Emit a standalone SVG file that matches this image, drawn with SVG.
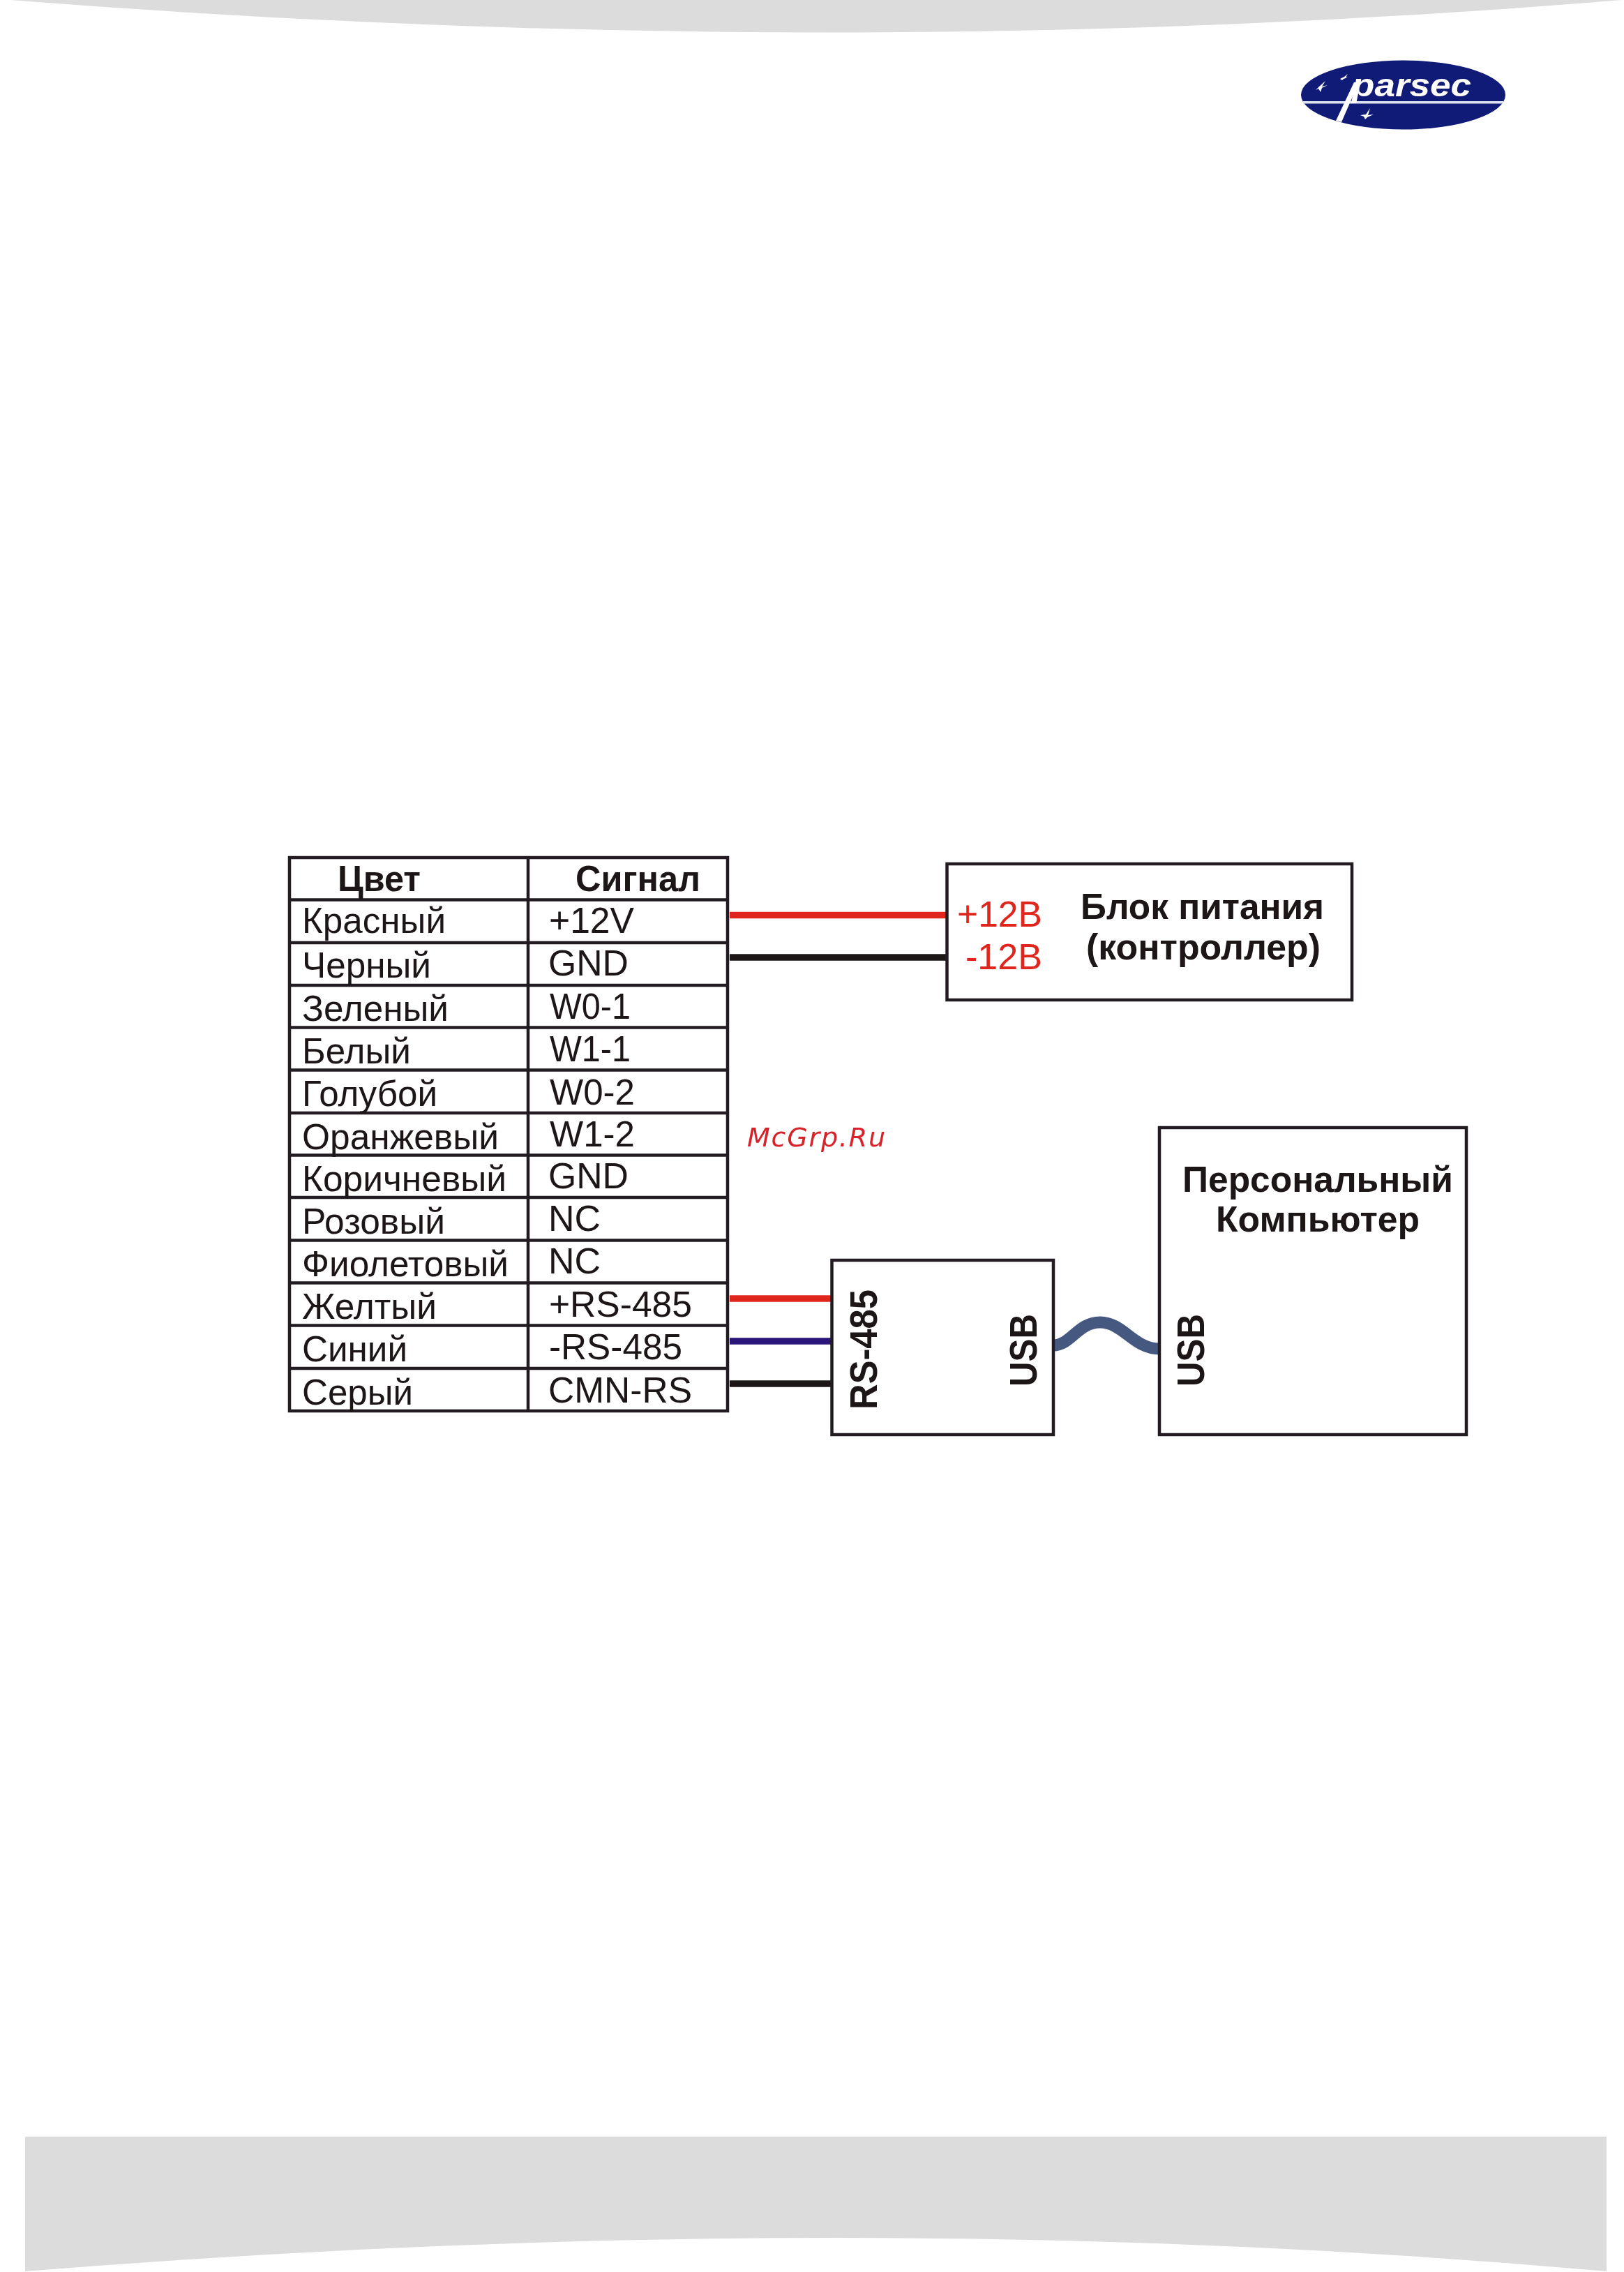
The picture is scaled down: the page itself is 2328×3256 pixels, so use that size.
<svg xmlns="http://www.w3.org/2000/svg" width="2328" height="3256" viewBox="0 0 2328 3256">
<defs><filter id="soft" x="-5%" y="-5%" width="110%" height="110%"><feGaussianBlur stdDeviation="0.7"/></filter></defs>
<style>
text{font-family:"Liberation Sans",Arial,sans-serif;fill:#1c1718;font-size:52px}
.b{font-weight:bold}
.r{fill:#e0261f}
.grid{stroke:#231f20;stroke-width:4.5;fill:none}
.box{stroke:#231f20;stroke-width:4.5;fill:#fff}
.w{fill:none;stroke-width:9.5}
.band{fill:#dcdcdc}
</style>
<rect width="2328" height="3256" fill="#fff"/>
<path id="band-top" class="band" d="M15 0H2324Q1200 93 15 0Z"/>
<path id="band-bottom" class="band" d="M36 3062H2303V3255Q1232 3159 36 3255Z"/>
<g id="logo">
<ellipse cx="2011.5" cy="136" rx="146.5" ry="49.5" fill="#101b78"/>
<rect x="1868" y="145" width="287" height="3.5" fill="#dfe2f0"/>
<polygon points="1915,173 1923,175 1948,118 1941,118" fill="#fff"/>
<polygon points="1886,129 1891,124 1900,116 1895,124 1903,122 1895,126 1893,132 1890,127" fill="#fff"/>
<polygon points="1921,113 1927,110 1932,106 1929,111 1932,111 1926,113 1924,115" fill="#fff"/>
<polygon points="1950,165 1958,164 1964,155 1961,165 1969,164 1960,168 1957,171 1955,167" fill="#fff"/>
<text x="1938" y="138" class="b" textLength="171" lengthAdjust="spacingAndGlyphs" style="fill:#fff;font-size:46px;font-style:italic">parsec</text>
</g>
<g filter="url(#soft)">
<g id="connectors">
<path class="w" stroke="#e0261f" d="M1046 1311.500H1358"/>
<path class="w" stroke="#1a1718" d="M1046 1372H1358"/>
<path class="w" stroke="#e0261f" d="M1046 1861H1193"/>
<path class="w" stroke="#2a1478" d="M1046 1922H1193"/>
<path class="w" stroke="#1a1718" d="M1046 1983H1193"/>
<path fill="none" stroke="#45597f" stroke-width="17" d="M1510 1928C1535 1928 1545 1895 1577 1895C1610 1895 1625 1933 1662 1933"/>
</g>
<g id="table">
<path class="grid" d="M415 1229H1043V2022H415ZM757 1229V2022M415 1289.500H1043M415 1351H1043M415 1412H1043M415 1472.500H1043M415 1533.500H1043M415 1595H1043M415 1655.500H1043M415 1716H1043M415 1777.500H1043M415 1838.500H1043M415 1899.500H1043M415 1961H1043"/>
<text class="b" x="484" y="1277" textLength="119" lengthAdjust="spacingAndGlyphs">Цвет</text>
<text class="b" x="825" y="1277" textLength="179" lengthAdjust="spacingAndGlyphs">Сигнал</text>
<text x="433" y="1337" textLength="206" lengthAdjust="spacingAndGlyphs">Красный</text>
<text x="433" y="1401" textLength="185" lengthAdjust="spacingAndGlyphs">Черный</text>
<text x="433" y="1463" textLength="210" lengthAdjust="spacingAndGlyphs">Зеленый</text>
<text x="433" y="1524" textLength="156" lengthAdjust="spacingAndGlyphs">Белый</text>
<text x="433" y="1585" textLength="194" lengthAdjust="spacingAndGlyphs">Голубой</text>
<text x="433" y="1647" textLength="282" lengthAdjust="spacingAndGlyphs">Оранжевый</text>
<text x="433" y="1707" textLength="293" lengthAdjust="spacingAndGlyphs">Коричневый</text>
<text x="433" y="1768" textLength="205" lengthAdjust="spacingAndGlyphs">Розовый</text>
<text x="433" y="1829" textLength="296" lengthAdjust="spacingAndGlyphs">Фиолетовый</text>
<text x="433" y="1890" textLength="193" lengthAdjust="spacingAndGlyphs">Желтый</text>
<text x="433" y="1951" textLength="151" lengthAdjust="spacingAndGlyphs">Синий</text>
<text x="433" y="2013" textLength="159" lengthAdjust="spacingAndGlyphs">Серый</text>
<text x="787" y="1337" textLength="122" lengthAdjust="spacingAndGlyphs">+12V</text>
<text x="786" y="1398" textLength="115" lengthAdjust="spacingAndGlyphs">GND</text>
<text x="788" y="1460" textLength="116" lengthAdjust="spacingAndGlyphs">W0-1</text>
<text x="788" y="1521" textLength="116" lengthAdjust="spacingAndGlyphs">W1-1</text>
<text x="788" y="1583" textLength="122" lengthAdjust="spacingAndGlyphs">W0-2</text>
<text x="788" y="1643" textLength="122" lengthAdjust="spacingAndGlyphs">W1-2</text>
<text x="786" y="1703" textLength="115" lengthAdjust="spacingAndGlyphs">GND</text>
<text x="786" y="1764" textLength="75" lengthAdjust="spacingAndGlyphs">NC</text>
<text x="786" y="1825" textLength="75" lengthAdjust="spacingAndGlyphs">NC</text>
<text x="787" y="1887" textLength="205" lengthAdjust="spacingAndGlyphs">+RS-485</text>
<text x="787" y="1948" textLength="191" lengthAdjust="spacingAndGlyphs">-RS-485</text>
<text x="786" y="2010" textLength="206" lengthAdjust="spacingAndGlyphs">CMN-RS</text>
</g>
<g id="power">
<rect class="box" x="1357.500" y="1238" width="580.500" height="195"/>
<text class="r" x="1372" y="1328" textLength="122" lengthAdjust="spacingAndGlyphs">+12В</text>
<text class="r" x="1384" y="1389" textLength="110" lengthAdjust="spacingAndGlyphs">-12В</text>
<text class="b" x="1549" y="1317" textLength="349" lengthAdjust="spacingAndGlyphs">Блок питания</text>
<text class="b" x="1557" y="1375" textLength="336" lengthAdjust="spacingAndGlyphs">(контроллер)</text>
</g>
<g id="converter">
<rect class="box" x="1192.500" y="1806" width="317.500" height="250"/>
<text class="b" transform="translate(1257 2020) rotate(-90)" textLength="172" lengthAdjust="spacingAndGlyphs" style="font-size:55px">RS-485</text>
<text class="b" transform="translate(1486 1987) rotate(-90)" textLength="104" lengthAdjust="spacingAndGlyphs" style="font-size:55px">USB</text>
</g>
<g id="pc">
<rect class="box" x="1662" y="1616" width="440" height="440"/>
<text class="b" x="1695" y="1708" textLength="388" lengthAdjust="spacingAndGlyphs">Персональный</text>
<text class="b" x="1743" y="1765" textLength="292" lengthAdjust="spacingAndGlyphs">Компьютер</text>
<text class="b" transform="translate(1726 1987) rotate(-90)" textLength="104" lengthAdjust="spacingAndGlyphs" style="font-size:55px">USB</text>
</g>
</g>
<text id="watermark" x="1071" y="1643" textLength="198" style="font-family:'DejaVu Sans',sans-serif;font-style:italic;font-size:38px;fill:#d8222a">McGrp.Ru</text>
</svg>
